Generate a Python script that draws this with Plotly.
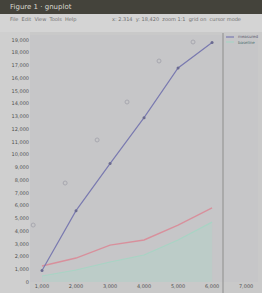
import plotly.graph_objects as go

# data
x_vals = [0, 1, 2, 3, 4, 5]
blue_vals = [900, 5600, 9300, 12900, 16800, 18800]
red_vals = [1260, 1880, 2900, 3300, 4470, 5810]
green_vals = [470, 940, 1570, 2120, 3300, 4700]
scatter_x = [-0.26, 0.68, 1.62, 2.5, 3.44, 4.44]
scatter_y = [4470, 7770, 11150, 14130, 17350, 18840]
x_ticks = [0, 1, 2, 3, 4, 5, 6]
x_tick_labels = ["1,000", "2,000", "3,000", "4,000", "5,000", "6,000", "7,000"]
series_names = ["measured", "fit", "baseline", "reference"]

BLUE = "#7a7ab0"
RED = "#d8909c"
GREEN = "#a8d4c4"

fig = go.Figure()
fig.add_trace(go.Scatter(x=scatter_x, y=scatter_y, mode="markers", name=series_names[3],
                         marker=dict(symbol="circle-open", size=4, color="#a8a8b0"),
                         showlegend=False))
fig.add_trace(go.Scatter(x=x_vals, y=green_vals, mode="lines", name=series_names[2],
                         line=dict(color=GREEN, width=1.2), fill="tozeroy",
                         fillcolor="rgba(170,215,200,0.35)", showlegend=False))
fig.add_trace(go.Scatter(x=x_vals, y=red_vals, mode="lines", name=series_names[1],
                         line=dict(color=RED, width=1.4), showlegend=False))
fig.add_trace(go.Scatter(x=x_vals, y=blue_vals, mode="lines+markers", name=series_names[0],
                         line=dict(color=BLUE, width=1.2),
                         marker=dict(size=3, color="#6a6a90"), showlegend=False))

def px(x):
    return (x - 30) / 228.0

def py(y):
    return (282 - y) / 247.0

shapes = [
    dict(type="rect", xref="paper", yref="paper", x0=px(0), x1=px(30), y0=py(293), y1=py(32),
         fillcolor="#cfcfcf", line=dict(width=0), layer="below"),
    dict(type="rect", xref="paper", yref="paper", x0=px(0), x1=px(262), y0=py(32), y1=py(14),
         fillcolor="#d4d4d4", line=dict(width=0), layer="below"),
    dict(type="rect", xref="paper", yref="paper", x0=px(0), x1=px(262), y0=py(14), y1=py(0),
         fillcolor="#44433b", line=dict(width=0), layer="below"),
    dict(type="line", xref="paper", yref="paper", x0=px(223), x1=px(223), y0=py(293), y1=py(33),
         line=dict(color="#a0a0a0", width=1.5)),
    # legend samples
    dict(type="line", xref="paper", yref="paper", x0=px(226), x1=px(234), y0=py(37), y1=py(37),
         line=dict(color=BLUE, width=1.2)),
    dict(type="line", xref="paper", yref="paper", x0=px(226), x1=px(234), y0=py(42), y1=py(42),
         line=dict(color=GREEN, width=1.2)),
]

annotations = [
    dict(text="Figure 1 · gnuplot", xref="paper", yref="paper", x=px(8), y=py(7), xanchor="left",
         yanchor="middle", showarrow=False, font=dict(size=7, color="#d8d8d0", family="DejaVu Sans")),
    dict(text="File  Edit  View  Tools  Help", xref="paper", yref="paper", x=px(8), y=py(20),
         xanchor="left", yanchor="middle", showarrow=False,
         font=dict(size=5, color="#707070", family="DejaVu Sans")),
    dict(text="x: 2.314  y: 18,420  zoom 1:1  grid on  cursor mode", xref="paper", yref="paper",
         x=px(110), y=py(20), xanchor="left", yanchor="middle", showarrow=False,
         font=dict(size=5, color="#707070", family="DejaVu Sans")),
    dict(text=series_names[0], xref="paper", yref="paper", x=px(236), y=py(37), xanchor="left",
         yanchor="middle", showarrow=False, font=dict(size=4, color="#606070")),
    dict(text=series_names[2], xref="paper", yref="paper", x=px(236), y=py(42), xanchor="left",
         yanchor="middle", showarrow=False, font=dict(size=4, color="#507070")),
]

fig.update_layout(
    width=262, height=293,
    margin=dict(l=30, r=4, t=35, b=11, autoexpand=False),
    paper_bgcolor="#c9c9c9",
    plot_bgcolor="#c6c6c8",
    shapes=shapes,
    annotations=annotations,
    showlegend=False,
    font=dict(family="DejaVu Sans", size=5, color="#606060"),
    xaxis=dict(range=[-0.353, 6.35], tickvals=x_ticks, ticktext=x_tick_labels,
               showgrid=False, zeroline=False, showline=False, ticks="", ticklen=0,
               tickfont=dict(size=5, color="#505050")),
    yaxis=dict(range=[0, 19390], dtick=1000, tickformat=",", showgrid=False, zeroline=False,
               showline=False, ticks="", tickfont=dict(size=5, color="#505050")),
)

fig.write_html("out.html", config={"displayModeBar": False},
               post_script="document.body.style.margin='0';document.body.style.padding='0';"
                           "document.body.style.overflow='hidden';")
